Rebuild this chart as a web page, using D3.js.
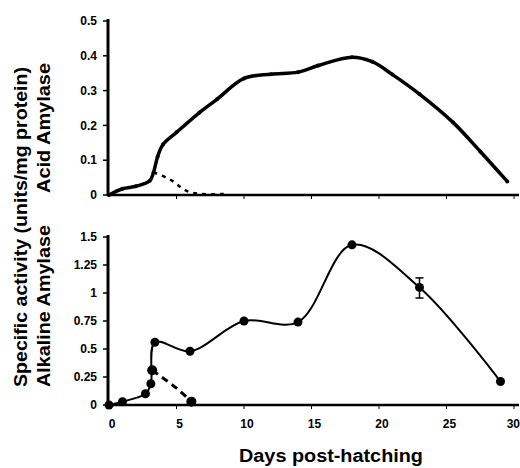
<!DOCTYPE html>
<html>
<head>
<meta charset="utf-8">
<script src="https://cdn.jsdelivr.net/npm/d3@7"></script>
<style>
  body { margin: 0; background: #fff; }
  svg { display: block; }
  text { font-family: "Liberation Sans", Arial, sans-serif; font-weight: bold; fill: #000; }
</style>
</head>
<body>
<div id="chart"></div>
<script>
// acid amylase (top panel)
var acidDays = [0, 1, 2, 3, 3.3, 3.6, 4, 5, 6.7, 8, 10, 12, 14, 15.5, 18, 19.5, 21, 23, 25.5, 27.5, 29.5];
var acidVals = [0, 0.018, 0.025, 0.04, 0.065, 0.11, 0.145, 0.18, 0.237, 0.275, 0.335, 0.347, 0.353, 0.372, 0.396, 0.383, 0.346, 0.29, 0.208, 0.125, 0.039];
var acidDashDays = [3.3, 4.5, 6, 8.5];
var acidDashVals = [0.065, 0.045, 0.008, 0.003];

// alkaline amylase (bottom panel)
var alkDays = [0, 1, 2.7, 3.1, 3.4, 6, 10, 14, 18, 23, 29];
var alkVals = [0, 0.03, 0.1, 0.19, 0.56, 0.48, 0.75, 0.74, 1.43, 1.05, 0.21];
var alkDashDays = [3.2, 5, 6.1];
var alkDashVals = [0.31, 0.15, 0.03];
var errDay = 23, errLow = 0.955, errHigh = 1.135;

var xTicks = [0, 5, 10, 15, 20, 25, 30];
var acidTicks = [0, 0.1, 0.2, 0.3, 0.4, 0.5];
var alkTicks = [0, 0.25, 0.5, 0.75, 1, 1.25, 1.5];
var alkTickLabels = ["0", "0.25", "0.5", "0.75", "1", "1.25", "1.5"];

var width = 520, height = 468;

var svg = d3.select("#chart").append("svg")
    .attr("width", width)
    .attr("height", height);

var x = d3.scaleLinear().domain([0, 30]).range([109, 514]);
var yTop = d3.scaleLinear().domain([0, 0.5]).range([195, 21]);
var yBot = d3.scaleLinear().domain([0, 1.5]).range([405, 237]);

function zip(a, b) {
    return a.map((d, i) => [d, b[i]]);
}

function drawAxes(y, ticks, labels, showX) {
    var g = svg.append("g");
    // y axis
    g.append("line")
        .attr("x1", 108).attr("x2", 108)
        .attr("y1", y.range()[1] - 2).attr("y2", y.range()[0] + 1)
        .attr("stroke", "#000").attr("stroke-width", 3);
    g.selectAll(".yt").data(ticks).enter().append("line")
        .attr("x1", 103).attr("x2", 108)
        .attr("y1", d => y(d)).attr("y2", d => y(d))
        .attr("stroke", "#000").attr("stroke-width", 1.5);
    g.selectAll(".yl").data(ticks).enter().append("text")
        .attr("x", 97)
        .attr("y", d => y(d))
        .attr("dy", "0.35em")
        .attr("text-anchor", "end")
        .style("font-size", "12px")
        .text((d, i) => labels[i]);
    // x axis
    g.append("line")
        .attr("x1", 107).attr("x2", 519)
        .attr("y1", y(0)).attr("y2", y(0))
        .attr("stroke", "#000").attr("stroke-width", 2.5);
    g.selectAll(".xt").data(xTicks.slice(1)).enter().append("line")
        .attr("x1", d => x(d)).attr("x2", d => x(d))
        .attr("y1", y(0)).attr("y2", y(0) + 4)
        .attr("stroke", "#000").attr("stroke-width", 1);
    if (showX) {
        // last label sits flush at the right edge
        g.selectAll(".xl").data(xTicks).enter().append("text")
            .attr("x", d => d == 30 ? 520 : x(d) + 3)
            .attr("y", y(0) + 23)
            .attr("text-anchor", d => d == 30 ? "end" : "middle")
            .style("font-size", "12px")
            .text(d => d);
    }
}

drawAxes(yTop, acidTicks, acidTicks.map(String), false);
drawAxes(yBot, alkTicks, alkTickLabels, true);

var curve = d3.curveCatmullRom.alpha(0.5);

// top panel lines
var lineTop = d3.line().x(d => x(d[0])).y(d => yTop(d[1])).curve(curve);
svg.append("path")
    .datum(zip(acidDashDays, acidDashVals))
    .attr("fill", "none").attr("stroke", "#000")
    .attr("stroke-width", 2.5).attr("stroke-dasharray", "4,5")
    .attr("d", lineTop);
svg.append("path")
    .datum(zip(acidDays, acidVals))
    .attr("fill", "none").attr("stroke", "#000")
    .attr("stroke-width", 3.5).attr("stroke-linejoin", "round")
    .attr("d", lineTop);
svg.selectAll(".accdot").data(zip(acidDays, acidVals)).enter().append("circle")
    .attr("cx", d => x(d[0])).attr("cy", d => yTop(d[1]))
    .attr("r", 2).attr("fill", "#000");

// bottom panel lines
var lineBot = d3.line().x(d => x(d[0])).y(d => yBot(d[1])).curve(curve);
svg.append("path")
    .datum(zip(alkDashDays, alkDashVals))
    .attr("fill", "none").attr("stroke", "#000")
    .attr("stroke-width", 3).attr("stroke-dasharray", "7,5")
    .attr("d", lineBot);
svg.append("path")
    .datum(zip(alkDays, alkVals))
    .attr("fill", "none").attr("stroke", "#000")
    .attr("stroke-width", 2)
    .attr("d", lineBot);
svg.selectAll(".alkdot").data(zip(alkDays, alkVals)).enter().append("circle")
    .attr("cx", d => x(d[0])).attr("cy", d => yBot(d[1]))
    .attr("r", 4.5).attr("fill", "#000");
svg.selectAll(".alkdash").data(zip(alkDashDays, alkDashVals).filter((d, i) => i != 1)).enter().append("circle")
    .attr("cx", d => x(d[0])).attr("cy", d => yBot(d[1]))
    .attr("r", 5).attr("fill", "#000");

// error bar
var eb = svg.append("g").attr("stroke", "#000").attr("stroke-width", 1.5);
eb.append("line").attr("x1", x(errDay)).attr("x2", x(errDay)).attr("y1", yBot(errLow)).attr("y2", yBot(errHigh));
eb.append("line").attr("x1", x(errDay) - 4).attr("x2", x(errDay) + 4).attr("y1", yBot(errLow)).attr("y2", yBot(errLow));
eb.append("line").attr("x1", x(errDay) - 4).attr("x2", x(errDay) + 4).attr("y1", yBot(errHigh)).attr("y2", yBot(errHigh));

// titles
svg.append("text")
    .attr("x", 331).attr("y", 462)
    .attr("text-anchor", "middle")
    .attr("textLength", 184).attr("lengthAdjust", "spacingAndGlyphs")
    .style("font-size", "18px")
    .text("Days post-hatching");

svg.append("text")
    .attr("transform", "translate(27,227) rotate(-90)")
    .attr("text-anchor", "middle")
    .attr("textLength", 320).attr("lengthAdjust", "spacingAndGlyphs")
    .style("font-size", "18px")
    .text("Specific activity (units/mg protein)");

svg.append("text")
    .attr("transform", "translate(50,128) rotate(-90)")
    .attr("text-anchor", "middle")
    .attr("textLength", 130).attr("lengthAdjust", "spacingAndGlyphs")
    .style("font-size", "18px")
    .text("Acid Amylase");

svg.append("text")
    .attr("transform", "translate(50,306) rotate(-90)")
    .attr("text-anchor", "middle")
    .attr("textLength", 162).attr("lengthAdjust", "spacingAndGlyphs")
    .style("font-size", "18px")
    .text("Alkaline Amylase");
</script>
</body>
</html>
